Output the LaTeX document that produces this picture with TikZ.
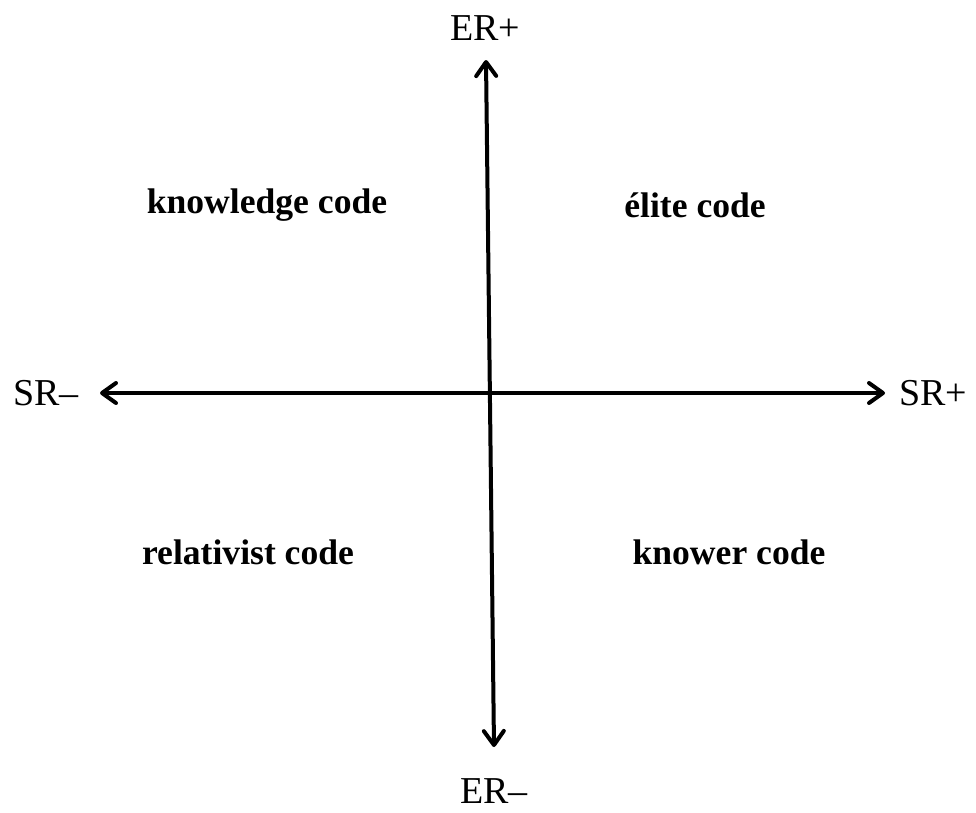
\documentclass[tikz,border=0pt]{standalone}
\usepackage{fontspec}
\setmainfont{Liberation Serif}
\usetikzlibrary{arrows.meta}

\begin{document}
\begin{tikzpicture}[
  x=1pt, y=-1pt,
  axis/.style={line width=4pt, {Straight Barb[length=14pt,width=20pt,round]}-{Straight Barb[length=14pt,width=20pt,round]}},
  pole/.style={font=\fontsize{38}{40}\selectfont, inner sep=0pt},
  code/.style={font=\fontsize{35.6}{38}\selectfont\bfseries, inner sep=0pt},
  ]
  \useasboundingbox (0,0) rectangle (976,812);
  % axis ends
  \coordinate (ERp) at (486,60);
  \coordinate (ERm) at (494,747);
  \coordinate (SRm) at (100,393);
  \coordinate (SRp) at (885,393);
  \draw[axis] (SRm) -- (SRp);
  \draw[axis] (ERm) -- (ERp);
  % pole labels
  \node[pole] (erplus) at (485,28) {ER+};
  \node[pole, anchor=base] (erminus) at (494,803) {ER\textendash};
  \node[pole] (srminus) at (46,393) {SR\textendash};
  \node[pole] (srplus) at (933,393) {SR+};
  % the four codes
  \node[code] (knowledge) at (267,205) {knowledge code};
  \node[code] (elite) at (695,205) {élite code};
  \node[code] (relativist) at (248,552) {relativist code};
  \node[code] (knower) at (729,552) {knower code};
\end{tikzpicture}
\end{document}
